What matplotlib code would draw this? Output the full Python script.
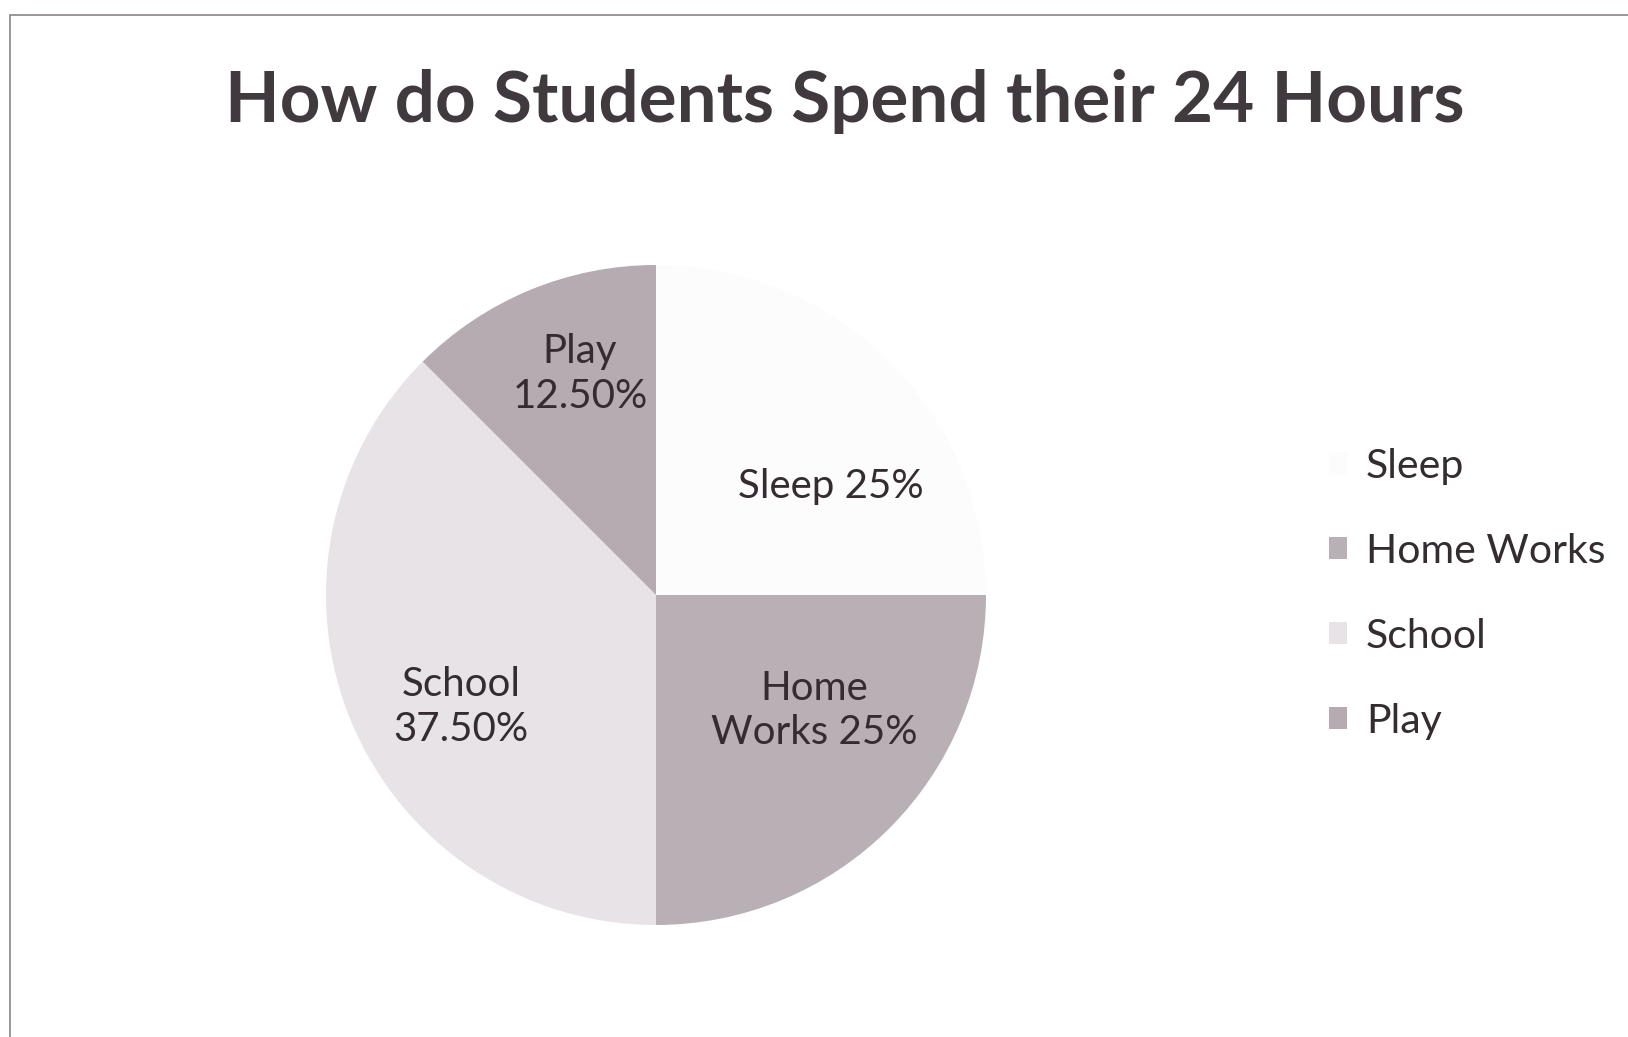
import matplotlib
matplotlib.use("Agg")
import matplotlib.pyplot as plt
from matplotlib.patches import Rectangle

# ---- data ----
categories = ["Sleep", "Home Works", "School", "Play"]
values = [25.0, 25.0, 37.5, 12.5]
slice_labels = ["Sleep 25%", "Home\nWorks 25%", "School\n37.50%", "Play\n12.50%"]
title = "How do Students Spend their 24 Hours"

# ---- style ----
colors = ["#fdfcfd", "#b9b0b5", "#e7e3e7", "#b5abb1"]
label_pos = [(0.53, 0.33), (0.48, -0.35), (-0.59, -0.34), (-0.23, 0.67)]
text_color = "#342c30"
FONT = ["Lato", "DejaVu Sans"]

W, H = 1628, 1037
fig = plt.figure(figsize=(W / 100, H / 100), dpi=100)
fig.patch.set_facecolor("white")

# outer chart border (scan frame)
fig.add_artist(Rectangle((10 / W, -0.01), 1.02, 1 - 15 / H + 0.01,
                         transform=fig.transFigure, fill=False,
                         edgecolor="#8a8488", linewidth=1.2))

cx, cy, r = 656, 595, 330
ax = fig.add_axes([(cx - r) / W, (H - cy - r) / H, 2 * r / W, 2 * r / H])
wedges, _ = ax.pie(values, colors=colors, startangle=90, counterclock=False,
                   radius=1.0, wedgeprops=dict(linewidth=0))
ax.set_xlim(-1, 1)
ax.set_ylim(-1, 1)
ax.set_aspect("equal")
ax.axis("off")

for lab, (x, y) in zip(slice_labels, label_pos):
    ax.text(x, y, lab, ha="center", va="center", fontsize=29,
            family=FONT, color=text_color, linespacing=1.25)

fig.text(845 / W, 1 - 101 / H, title, ha="center", va="center",
         fontsize=51, fontweight="bold", family=FONT, color="#403a3e")

leg = fig.legend(wedges, categories, loc="center left",
                 bbox_to_anchor=(1329 / W, 1 - 594 / H), frameon=False,
                 prop=dict(family=FONT, size=29.5), labelcolor=text_color,
                 handlelength=0.45, handleheight=0.45, handletextpad=0.45,
                 labelspacing=1.17, borderpad=0, borderaxespad=0)

fig.savefig("out.png", dpi=100, facecolor="white")
